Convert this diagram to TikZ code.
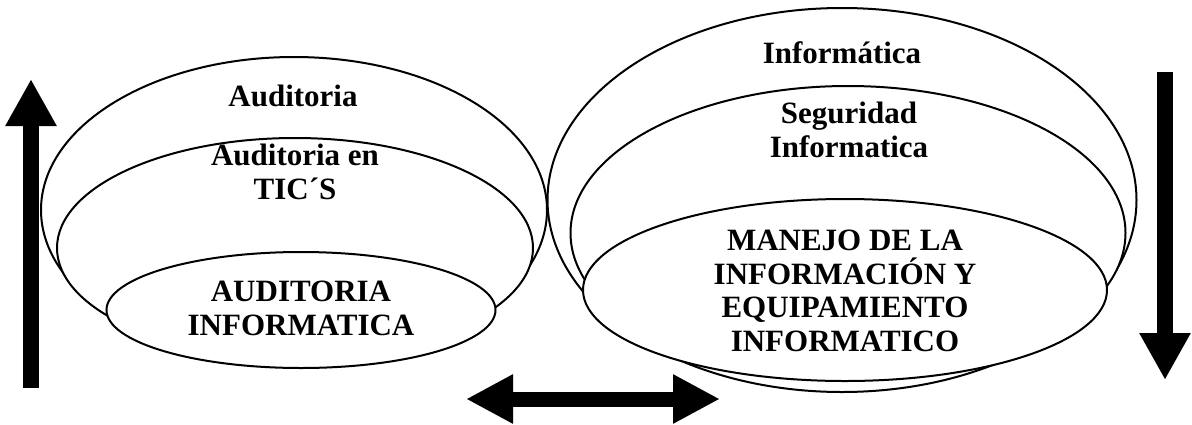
\documentclass[tikz,border=0pt]{standalone}
\usepackage{fontspec}
\setmainfont{Liberation Serif}
\usetikzlibrary{shapes,arrows.meta}

\begin{document}
\begin{tikzpicture}[x=1pt,y=-1pt,
  ring/.style={draw,ellipse,fill=white,line width=2pt,inner sep=0pt},
  tag/.style={font=\fontsize{31}{33.5}\selectfont\bfseries,align=center,inner sep=0pt,anchor=base},
  bigarrow/.style={line width=16pt,-{Triangle[length=47pt,width=48pt]}}]
\useasboundingbox (0,0) rectangle (1192,424);

% left group
\node[name=Auditoria,ring,minimum width=506pt,minimum height=306pt] at (294,210) {};
\node[name=Auditoria-TICS,ring,minimum width=476pt,minimum height=220pt] at (295,248) {};
\node[name=Auditoria-Inf,ring,minimum width=389pt,minimum height=116pt] at (301,310) {};
\node[name=Auditoria-Label,tag] at (293,106) {Auditoria};
\node[name=TICS-Label,tag] at (295,199) {Auditoria en\\TIC´S};
\node[name=Auditoria-Inf-Label,tag] at (301,335) {AUDITORIA\\INFORMATICA};

% right group
\node[name=Informatica,ring,minimum width=589pt,minimum height=384pt] at (842,200) {};
\node[name=Seguridad,ring,minimum width=555pt,minimum height=294pt] at (848,233) {};
\node[name=Manejo,ring,minimum width=524pt,minimum height=182pt] at (845,290) {};
\node[name=Informatica-Label,tag] at (842,63) {Informática};
\node[name=Seguridad-Label,tag] at (849,157) {Seguridad\\Informatica};
\node[name=Manejo-Label,tag] at (845,351) {MANEJO DE LA\\INFORMACIÓN Y\\EQUIPAMIENTO\\INFORMATICO};

% arrows
\coordinate (Up-Start) at (31,388);
\coordinate (Up-End) at (31,79);
\coordinate (Down-Start) at (1165,72);
\coordinate (Down-End) at (1165,380);
\coordinate (Both-Left) at (466,399);
\coordinate (Both-Right) at (720,399);
\draw[bigarrow] (Up-Start) -- (Up-End);
\draw[bigarrow] (Down-Start) -- (Down-End);
\draw[line width=15pt,{Triangle[length=47pt,width=46pt]}-{Triangle[length=47pt,width=46pt]}] (Both-Left) -- (Both-Right);
\end{tikzpicture}
\end{document}
